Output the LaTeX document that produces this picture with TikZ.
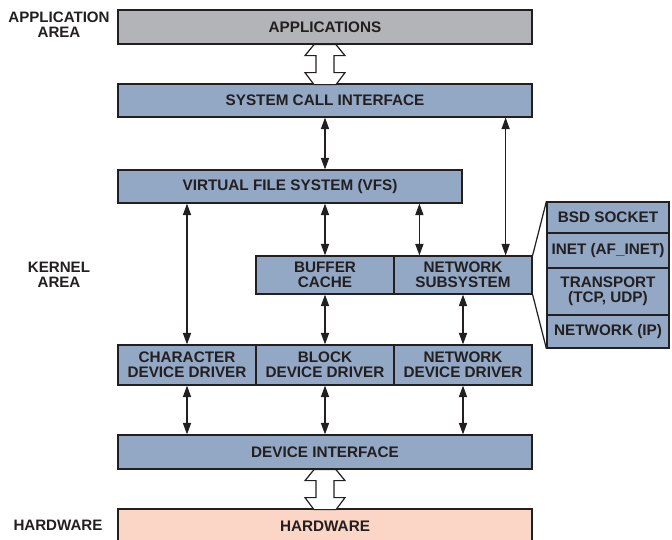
\documentclass[tikz,border=0pt]{standalone}
\usepackage{fontspec}
\setmainfont{Liberation Sans}
\usetikzlibrary{arrows.meta, calc}

\definecolor{kernelblue}{RGB}{147,168,196}
\definecolor{appgray}{RGB}{178,180,184}
\definecolor{hwpink}{RGB}{251,214,198}
\definecolor{textgray}{RGB}{35,31,32}

\tikzset{
  box/.style={draw=textgray, line width=0.7pt, fill=kernelblue, text=textgray,
    font=\bfseries\fontsize{8.7}{8.5}\selectfont, align=center, inner sep=0pt},
  sz/.style 2 args={minimum width=#1*0.02cm, minimum height=#2*0.02cm},
  area/.style={text=textgray, font=\bfseries\fontsize{8.6}{8.5}\selectfont, align=center},
  link/.style={<->, line width=0.7pt, draw=textgray},
  hollowarrow/.pic={
    \draw[line width=0.7pt, draw=textgray, fill=white] (-11,0) -- (-20,11) -- (-9,11) -- (-9,28)
      -- (-20,28) -- (-11,40) -- (11,40) -- (20,28) -- (9,28) -- (9,11) -- (20,11) -- (11,0) -- cycle;
  }
}

\begin{document}
\begin{tikzpicture}[x=0.02cm, y=-0.02cm, >={Triangle[length=6.5pt,width=4.6pt]}]
		\useasboundingbox (0,0) rectangle (672,539);
		
		% 左侧区域标注
		\node[area] (applab) at (59,25) {APPLICATION\\AREA};
		\node[area] (kernlab) at (59,275) {KERNEL\\AREA};
		\node[area] (hwlab) at (58,525) {HARDWARE};
		
		% 主干各层方框
		\node[box, fill=appgray, sz={414}{34}] (apps) at (325,27) {APPLICATIONS};
		\node[box, sz={414}{33}] (sci) at (325,100.5) {SYSTEM CALL INTERFACE};
		\node[box, sz={344}{33}] (vfs) at (290,186.5) {VIRTUAL FILE SYSTEM (VFS)};
		\node[box, sz={138}{38}] (buf) at (325,275) {BUFFER\\CACHE};
		\node[box, sz={138}{38}] (netsub) at (463,275) {NETWORK\\SUBSYSTEM};
		\node[box, sz={138}{40}] (chr) at (187,365) {CHARACTER\\DEVICE DRIVER};
		\node[box, sz={138}{40}] (blk) at (325,365) {BLOCK\\DEVICE DRIVER};
		\node[box, sz={138}{40}] (ndd) at (463,365) {NETWORK\\DEVICE DRIVER};
		\node[box, sz={414}{34}] (devif) at (325,452) {DEVICE INTERFACE};
		\node[box, fill=hwpink, sz={414}{34}] (hw) at (325,526) {HARDWARE};
		
		% 右侧网络协议栈
		\node[box, sz={122}{31}] (bsd) at (608,217.5) {BSD SOCKET};
		\node[box, sz={122}{35}] (inet) at (608,250.5) {INET (AF\_INET)};
		\node[box, sz={122}{47}] (trans) at (608,291.5) {TRANSPORT\\(TCP, UDP)};
		\node[box, sz={122}{33}] (nip) at (608,331.5) {NETWORK (IP)};
		\draw[line width=0.7pt, textgray] (netsub.north east) -- (bsd.north west);
		\draw[line width=0.7pt, textgray] (netsub.south east) -- (nip.south west);
		
		% 空心双向箭头
		\pic at (apps.south) {hollowarrow};
		\pic at (devif.south) {hollowarrow};
		
		% 各层之间的双向箭头
		\draw[link] (sci.south) -- (sci.south |- vfs.north);
		\draw[link] (chr.north |- vfs.south) -- (chr.north);
		\draw[link] (buf.north |- vfs.south) -- (buf.north);
		\coordinate (nin) at ($(netsub.north west)+(26,0)$);
		\draw[link] (nin |- vfs.south) -- (nin);
		\coordinate (nout) at ($(netsub.north east)+(-27,0)$);
		\draw[link] (nout |- sci.south) -- (nout);
		\draw[link] (buf.south) -- (blk.north);
		\draw[link] (netsub.south) -- (ndd.north);
		\foreach \drv in {chr, blk, ndd}
		\draw[link] (\drv.south) -- (\drv.south |- devif.north);
	\end{tikzpicture}
\end{document}
